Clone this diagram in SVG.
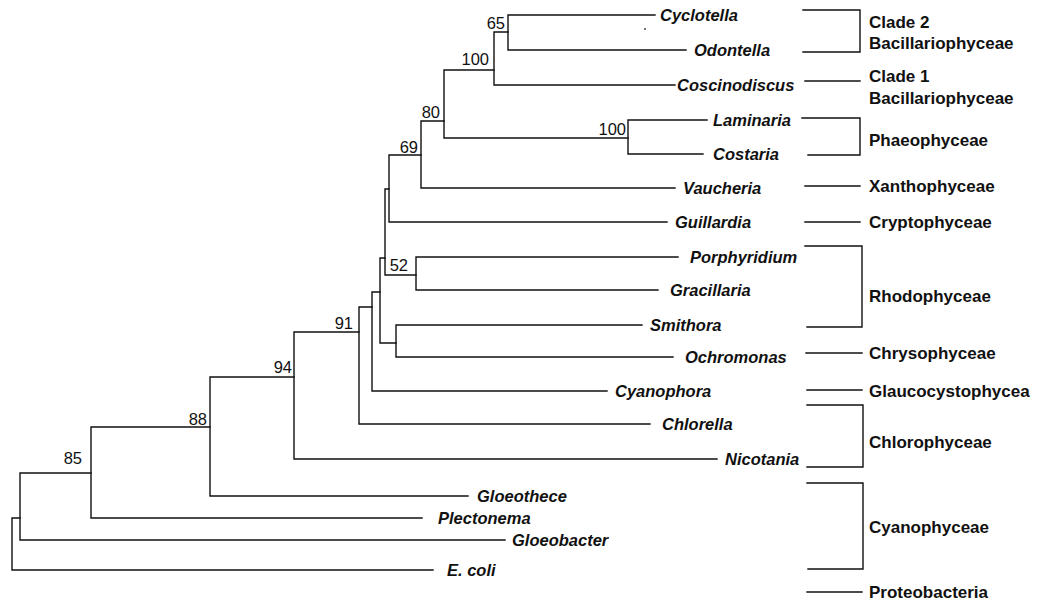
<svg xmlns="http://www.w3.org/2000/svg" width="1040" height="605" viewBox="0 0 1040 605">
<style>
.e{stroke:#111;stroke-width:1.4;fill:none;stroke-linecap:square}
.sp{font-family:"Liberation Sans",Arial,sans-serif;font-size:16.5px;font-weight:bold;font-style:italic;fill:#111}
.cl{font-family:"Liberation Sans",Arial,sans-serif;font-size:17px;font-weight:bold;fill:#111}
.bs{font-family:"Liberation Sans",Arial,sans-serif;font-size:16.5px;fill:#111;text-anchor:end}
</style>
<rect width="1040" height="605" fill="#fff"/>
<g id="connectors">
<path class="e" d="M508,15V50M508,15H655M508,50H686"/>
<path class="e" d="M494,32V85M494,32H508M494,85H675"/>
<path class="e" d="M628,120V154M628,120H707M628,154H703"/>
<path class="e" d="M444,70V138M444,70H494M444,138H628"/>
<path class="e" d="M421,121V188M421,121H444M421,188H675"/>
<path class="e" d="M389,155V222M389,155H421M389,222H667"/>
<path class="e" d="M416,257V290M416,257H678M416,290H658"/>
<path class="e" d="M385,189V275M385,189H389M385,275H416"/>
<path class="e" d="M396,325V357M396,325H642M396,357H673"/>
<path class="e" d="M380,258V343M380,258H385M380,343H396"/>
<path class="e" d="M372,292V391M372,292H380M372,391H607"/>
<path class="e" d="M359,307V424M359,307H372M359,424H650"/>
<path class="e" d="M294,332V459M294,332H359M294,459H717"/>
<path class="e" d="M210,377V496M210,377H294M210,496H468"/>
<path class="e" d="M91,427V518M91,427H210M91,518H422"/>
<path class="e" d="M20,473V540M20,473H91M20,540H505"/>
<path class="e" d="M12,518V570M12,518H20M12,570H433"/>
<path class="e" d="M803,10H860V52H803"/>
<path class="e" d="M805,81H860"/>
<path class="e" d="M802,118H860V155H808"/>
<path class="e" d="M805,186H860"/>
<path class="e" d="M805,222H860"/>
<path class="e" d="M805,246H862V327H807"/>
<path class="e" d="M806,353H862"/>
<path class="e" d="M807,390H862"/>
<path class="e" d="M807,405H863V467H807"/>
<path class="e" d="M807,483H863V569H808"/>
<path class="e" d="M807,592H862"/>
</g>
<circle cx="645" cy="29" r="0.9" fill="#333"/>
<g id="bootstrap">
<text class="bs" x="505" y="29">65</text>
<text class="bs" x="489" y="65">100</text>
<text class="bs" x="440" y="118">80</text>
<text class="bs" x="626" y="135">100</text>
<text class="bs" x="418" y="153">69</text>
<text class="bs" x="408" y="271">52</text>
<text class="bs" x="353" y="329">91</text>
<text class="bs" x="292" y="373">94</text>
<text class="bs" x="207" y="425">88</text>
<text class="bs" x="82" y="464">85</text>
</g>
<g id="taxa">
<text class="sp" x="660" y="21">Cyclotella</text>
<text class="sp" x="694" y="56">Odontella</text>
<text class="sp" x="677" y="91">Coscinodiscus</text>
<text class="sp" x="713" y="126">Laminaria</text>
<text class="sp" x="713" y="160">Costaria</text>
<text class="sp" x="683" y="194">Vaucheria</text>
<text class="sp" x="675" y="228">Guillardia</text>
<text class="sp" x="690" y="263">Porphyridium</text>
<text class="sp" x="670" y="296">Gracillaria</text>
<text class="sp" x="650" y="331">Smithora</text>
<text class="sp" x="685" y="363">Ochromonas</text>
<text class="sp" x="615" y="397">Cyanophora</text>
<text class="sp" x="662" y="430">Chlorella</text>
<text class="sp" x="725" y="465">Nicotania</text>
<text class="sp" x="477" y="502">Gloeothece</text>
<text class="sp" x="438" y="524">Plectonema</text>
<text class="sp" x="512" y="546">Gloeobacter</text>
<text class="sp" x="447" y="576">E. coli</text>
</g>
<g id="classes">
<text class="cl" x="869" y="28">Clade 2</text>
<text class="cl" x="869" y="49">Bacillariophyceae</text>
<text class="cl" x="869" y="82">Clade 1</text>
<text class="cl" x="869" y="104">Bacillariophyceae</text>
<text class="cl" x="869" y="146">Phaeophyceae</text>
<text class="cl" x="869" y="192">Xanthophyceae</text>
<text class="cl" x="869" y="228">Cryptophyceae</text>
<text class="cl" x="869" y="302">Rhodophyceae</text>
<text class="cl" x="869" y="359">Chrysophyceae</text>
<text class="cl" x="869" y="397">Glaucocystophycea</text>
<text class="cl" x="869" y="448">Chlorophyceae</text>
<text class="cl" x="869" y="533">Cyanophyceae</text>
<text class="cl" x="869" y="598">Proteobacteria</text>
</g>
</svg>
